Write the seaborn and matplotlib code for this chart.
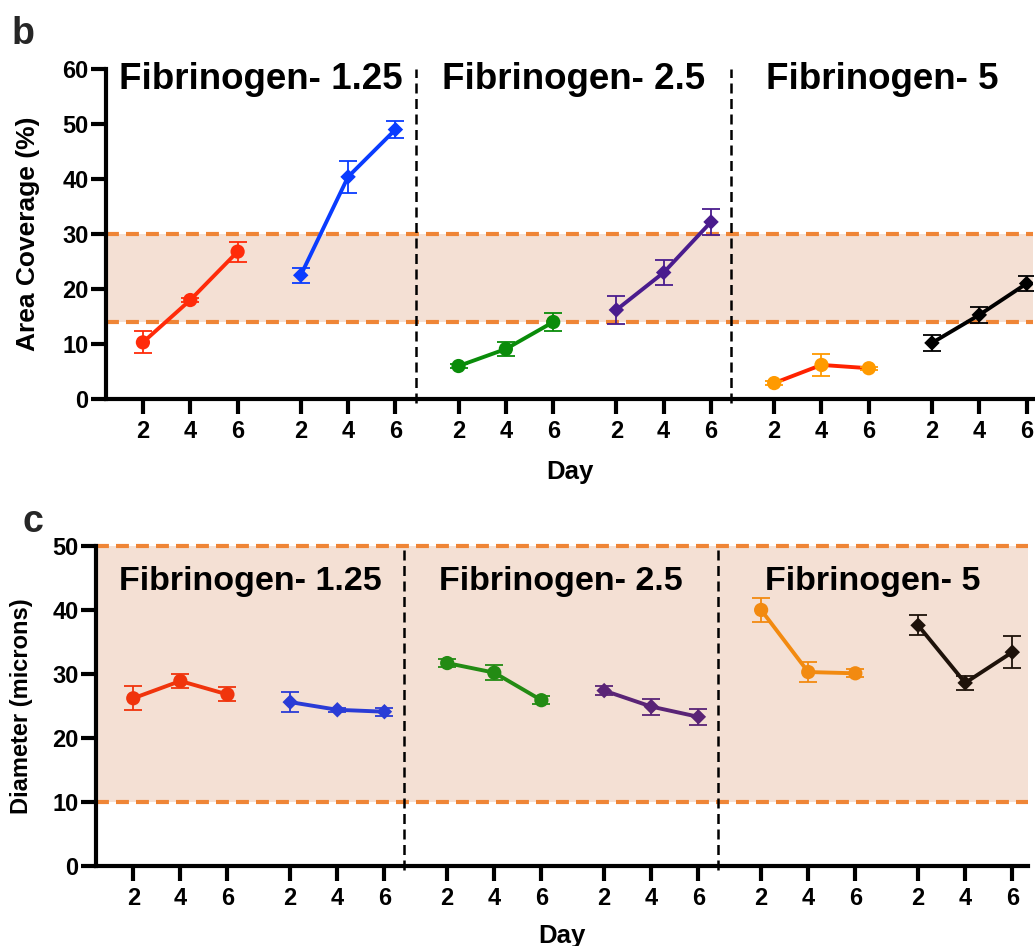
import matplotlib
matplotlib.use("Agg")
import matplotlib.pyplot as plt
import numpy as np
import pandas as pd
import seaborn as sns

# ---------------------------------------------------------------- data
days = [2, 4, 6]
concentrations = ["1.25", "2.5", "5"]
series_names = ["1.25 A", "1.25 B", "2.5 A", "2.5 B", "5 A", "5 B"]

# Area coverage (%), mean and SEM for each series
area_125_a = [10.3, 18.0, 26.8]
area_125_a_err = [2.0, 0.3, 1.8]
area_125_b = [22.5, 40.4, 49.0]
area_125_b_err = [1.35, 2.9, 1.5]
area_25_a = [6.0, 9.1, 14.0]
area_25_a_err = [0.4, 1.25, 1.7]
area_25_b = [16.2, 23.0, 32.2]
area_25_b_err = [2.6, 2.3, 2.35]
area_5_a = [2.9, 6.2, 5.6]
area_5_a_err = [0.3, 2.0, 0.3]
area_5_b = [10.2, 15.3, 21.0]
area_5_b_err = [1.4, 1.5, 1.35]

# Fiber diameter (microns), mean and SEM for each series
diam_125_a = [26.2, 28.9, 26.8]
diam_125_a_err = [1.9, 1.05, 1.1]
diam_125_b = [25.6, 24.4, 24.1]
diam_125_b_err = [1.6, 0.3, 0.6]
diam_25_a = [31.7, 30.2, 25.9]
diam_25_a_err = [0.6, 1.15, 0.6]
diam_25_b = [27.4, 24.9, 23.3]
diam_25_b_err = [0.65, 1.25, 1.3]
diam_5_a = [40.0, 30.3, 30.1]
diam_5_a_err = [1.9, 1.6, 0.6]
diam_5_b = [37.6, 28.6, 33.4]
diam_5_b_err = [1.55, 1.05, 2.5]

area_band = [14, 30]
diam_band = [10, 50]

# ---------------------------------------------------------------- styling
sns.set_theme(style="ticks")
plt.rcParams["font.family"] = ["Liberation Sans", "DejaVu Sans"]
plt.rcParams["font.weight"] = "bold"
plt.rcParams["axes.labelweight"] = "bold"

BAND_FILL = "#F4E0D4"
BAND_LINE = "#EF8536"
GROUP_STEP = 3.333          # distance between the first ticks of two series
markers = {s: ("o" if s.endswith("A") else "D") for s in series_names}
sizes = {s: (105 if s.endswith("A") else 62) for s in series_names}

colors_b_line = dict(zip(series_names, ["#FF2B0A", "#0A3CFF", "#0A8C0A",
                                        "#4A1C8E", "#FF2200", "#000000"]))
colors_b_mark = dict(zip(series_names, ["#FF2B0A", "#0A3CFF", "#0A8C0A",
                                        "#4A1C8E", "#FF9A00", "#000000"]))
colors_c = dict(zip(series_names, ["#F0340C", "#2A3CD6", "#238B14",
                                   "#5A2476", "#F28A10", "#1E120A"]))


def build_frame(means, errs):
    rows = []
    for g, (name, m, e) in enumerate(zip(series_names, means, errs)):
        for i, (d, v, err) in enumerate(zip(days, m, e)):
            rows.append({"series": name, "day": d,
                         "pos": g * GROUP_STEP + i, "value": v, "err": err})
    return pd.DataFrame(rows)


def draw_panel(ax, df, line_cols, mark_cols, ylim, yticks, band, xlim,
               dividers, title_y, title_size, ylabel, ylabel_size, ylabel_x,
               xlabel_y):
    # reference band
    ax.axhspan(band[0], band[1], color=BAND_FILL, lw=0, zorder=0)
    for yv in band:
        ax.axhline(yv, color=BAND_LINE, lw=3, ls=(0, (3.1, 1.7)), zorder=1,
                   clip_on=False)
    # section dividers
    for xv in dividers:
        ax.axvline(xv, ymin=-0.012, ymax=1, color="black", lw=1.8,
                   ls=(0, (4, 2.2)), clip_on=False, zorder=2)

    sns.lineplot(data=df, x="pos", y="value", hue="series", palette=line_cols,
                 estimator=None, sort=False, lw=2.8, legend=False, ax=ax,
                 zorder=3)
    for name, sub in df.groupby("series", sort=False):
        ax.errorbar(sub["pos"], sub["value"], yerr=sub["err"], fmt="none",
                    ecolor=mark_cols[name], elinewidth=1.3, capsize=6.5,
                    capthick=1.3, zorder=4)
    sns.scatterplot(data=df, x="pos", y="value", hue="series",
                    palette=mark_cols, style="series", markers=markers,
                    size="series", sizes=sizes, linewidth=0, legend=False,
                    ax=ax, zorder=5)

    ax.set_xlim(*xlim)
    ax.set_ylim(*ylim)
    ax.set_yticks(yticks)
    ax.set_xticks(df["pos"])
    ax.set_xticklabels(df["day"])
    sns.despine(ax=ax)
    for sp in ("left", "bottom"):
        ax.spines[sp].set_linewidth(3)
        ax.spines[sp].set_color("black")
    ax.tick_params(length=11, width=3, color="black", labelsize=17,
                   labelcolor="black")
    ax.tick_params(axis="x", pad=4)
    ax.tick_params(axis="y", pad=1.5)
    for lab in ax.get_xticklabels() + ax.get_yticklabels():
        lab.set_fontweight("bold")

    ax.set_ylabel(ylabel, fontsize=ylabel_size, fontweight="bold",
                  color="black")
    ax.yaxis.set_label_coords(ylabel_x, 0.5)
    ax.set_xlabel("Day", fontsize=18.5, fontweight="bold", color="black")
    ax.xaxis.set_label_coords(0.5, xlabel_y)

    # section titles
    edges = [xlim[0]] + list(dividers) + [xlim[1]]
    trans = ax.get_xaxis_transform()
    for k, conc in enumerate(concentrations):
        cx = (edges[k] + edges[k + 1]) / 2
        ax.text(cx, title_y, f"Fibrinogen- {conc}", transform=trans,
                ha="center", va="baseline", fontsize=title_size,
                fontweight="bold", color="black", zorder=6)


fig = plt.figure(figsize=(10.35, 9.46), dpi=100)
ax_b = fig.add_axes([0.1024, 0.5782, 0.8957, 0.3488])
ax_c = fig.add_axes([0.0928, 0.0846, 0.9005, 0.3383])

df_area = build_frame(
    [area_125_a, area_125_b, area_25_a, area_25_b, area_5_a, area_5_b],
    [area_125_a_err, area_125_b_err, area_25_a_err, area_25_b_err,
     area_5_a_err, area_5_b_err])
df_diam = build_frame(
    [diam_125_a, diam_125_b, diam_25_a, diam_25_b, diam_5_a, diam_5_b],
    [diam_125_a_err, diam_125_b_err, diam_25_a_err, diam_25_b_err,
     diam_5_a_err, diam_5_b_err])

draw_panel(ax_b, df_area, colors_b_line, colors_b_mark, (0, 60),
           [0, 10, 20, 30, 40, 50, 60], area_band, (-0.78, 18.8),
           (5.77, 12.43), 0.939, 26.5, "Area Coverage (%)", 19, -0.071, -0.185)
draw_panel(ax_c, df_diam, colors_c, colors_c, (0, 50),
           [0, 10, 20, 30, 40, 50], diam_band, (-0.79, 19.0),
           (5.75, 12.42), 0.8625, 24.5, "Diameter (microns)", 17, -0.068, -0.18)

fig.text(0.0116, 0.9535, "b", fontsize=27, fontweight="bold", va="baseline")
fig.text(0.0222, 0.4376, "c", fontsize=27, fontweight="bold", va="baseline")

fig.savefig("out.png", dpi=100)
